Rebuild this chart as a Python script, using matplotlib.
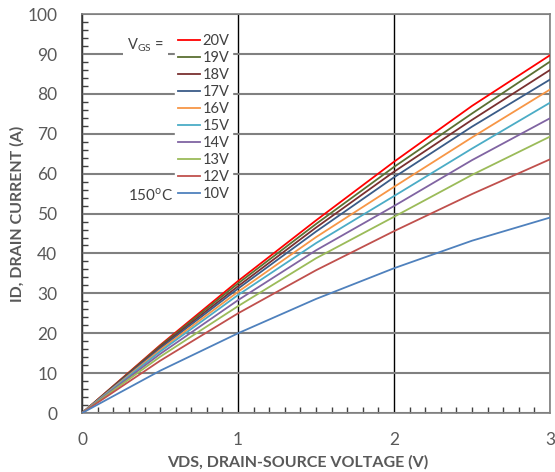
import matplotlib
matplotlib.use("Agg")
import matplotlib.pyplot as plt
from matplotlib.ticker import MultipleLocator

plt.rcParams['font.family'] = ['Lato', 'DejaVu Sans']

vds = [0, 0.5, 1, 1.5, 2, 2.5, 3]
labels = ["20V", "19V", "18V", "17V", "16V", "15V", "14V", "13V", "12V", "10V"]
id_20 = [0, 17.0, 33.1, 48.3, 63.0, 77.0, 89.7]
id_19 = [0, 16.8, 32.5, 47.4, 61.7, 75.1, 88.1]
id_18 = [0, 16.5, 31.8, 46.5, 60.5, 73.5, 86.0]
id_17 = [0, 16.2, 31.2, 45.5, 59.1, 71.8, 83.6]
id_16 = [0, 15.8, 30.4, 44.1, 56.7, 69.1, 81.1]
id_15 = [0, 15.4, 29.6, 42.6, 54.4, 66.3, 77.8]
id_14 = [0, 14.8, 28.3, 40.8, 51.9, 63.4, 73.9]
id_13 = [0, 14.1, 26.8, 38.8, 49.2, 59.7, 69.3]
id_12 = [0, 13.1, 25.0, 35.8, 45.6, 54.9, 63.6]
id_10 = [0, 10.6, 20.0, 28.6, 36.3, 43.2, 49.0]
series = [id_20, id_19, id_18, id_17, id_16, id_15, id_14, id_13, id_12, id_10]
colors = ["#FF0000", "#5A7032", "#7A3030", "#3A5C88", "#F79646", "#4BACC6",
          "#8064A2", "#9BBB59", "#C0504D", "#4F81BD"]

fig = plt.figure(figsize=(5.55, 4.72), dpi=100)
ax = fig.add_axes([0.148, 0.125, 0.843, 0.845])

ax.set_xlim(0, 3)
ax.set_ylim(0, 100)
ax.xaxis.set_major_locator(MultipleLocator(1))
ax.yaxis.set_major_locator(MultipleLocator(10))
ax.xaxis.set_minor_locator(MultipleLocator(0.1))
ax.yaxis.set_minor_locator(MultipleLocator(2))
ax.tick_params(which='major', length=0, labelsize=12.5, labelcolor='#595959')
ax.tick_params(axis='x', which='major', pad=14)
ax.tick_params(axis='y', which='major', pad=18)
ax.tick_params(which='minor', direction='in', length=4, width=1, color='#404040')

ax.grid(axis='y', which='major', color='#808080', linewidth=1.5, zorder=0)
ax.grid(axis='x', which='major', color='#000000', linewidth=1.0, zorder=0)
for s in ax.spines.values():
    s.set_color('#808080')
    s.set_linewidth(1.2)
ax.spines['left'].set_color('#404040')

for ys, c, lab in zip(series, colors, labels):
    ax.plot(vds, ys, color=c, linewidth=1.3, label=lab, zorder=3)

leg = ax.legend(loc='upper left', bbox_to_anchor=(0.198, 0.958), frameon=True,
                fontsize=10.5, handlelength=1.5, handletextpad=0.2,
                labelspacing=0.21, borderpad=0.2, borderaxespad=0)
leg.get_frame().set_facecolor('white')
leg.get_frame().set_edgecolor('white')
leg.get_frame().set_alpha(1)
leg.set_zorder(5)
for t in leg.get_texts():
    t.set_color('#404040')

ax.text(0.405, 92.3, "V$_{\\mathregular{GS}}$ =", fontsize=10.5, color='#404040',
        ha='center', va='center', zorder=6,
        bbox=dict(facecolor='white', edgecolor='none', pad=3))
ax.text(0.44, 54.6, "150$^{\\mathregular{o}}$C", fontsize=11, color='#404040',
        ha='center', va='center', zorder=6,
        bbox=dict(facecolor='white', edgecolor='none', pad=2))

ax.set_xlabel("VDS, DRAIN-SOURCE VOLTAGE (V)", fontsize=11.5, fontweight='bold',
              color='#595959')
ax.xaxis.set_label_coords(0.46, -0.106)
ax.set_ylabel("ID, DRAIN CURRENT (A)", fontsize=11.5, fontweight='bold',
              color='#595959')
ax.yaxis.set_label_coords(-0.122, 0.5)

fig.savefig("out.png", dpi=100)
